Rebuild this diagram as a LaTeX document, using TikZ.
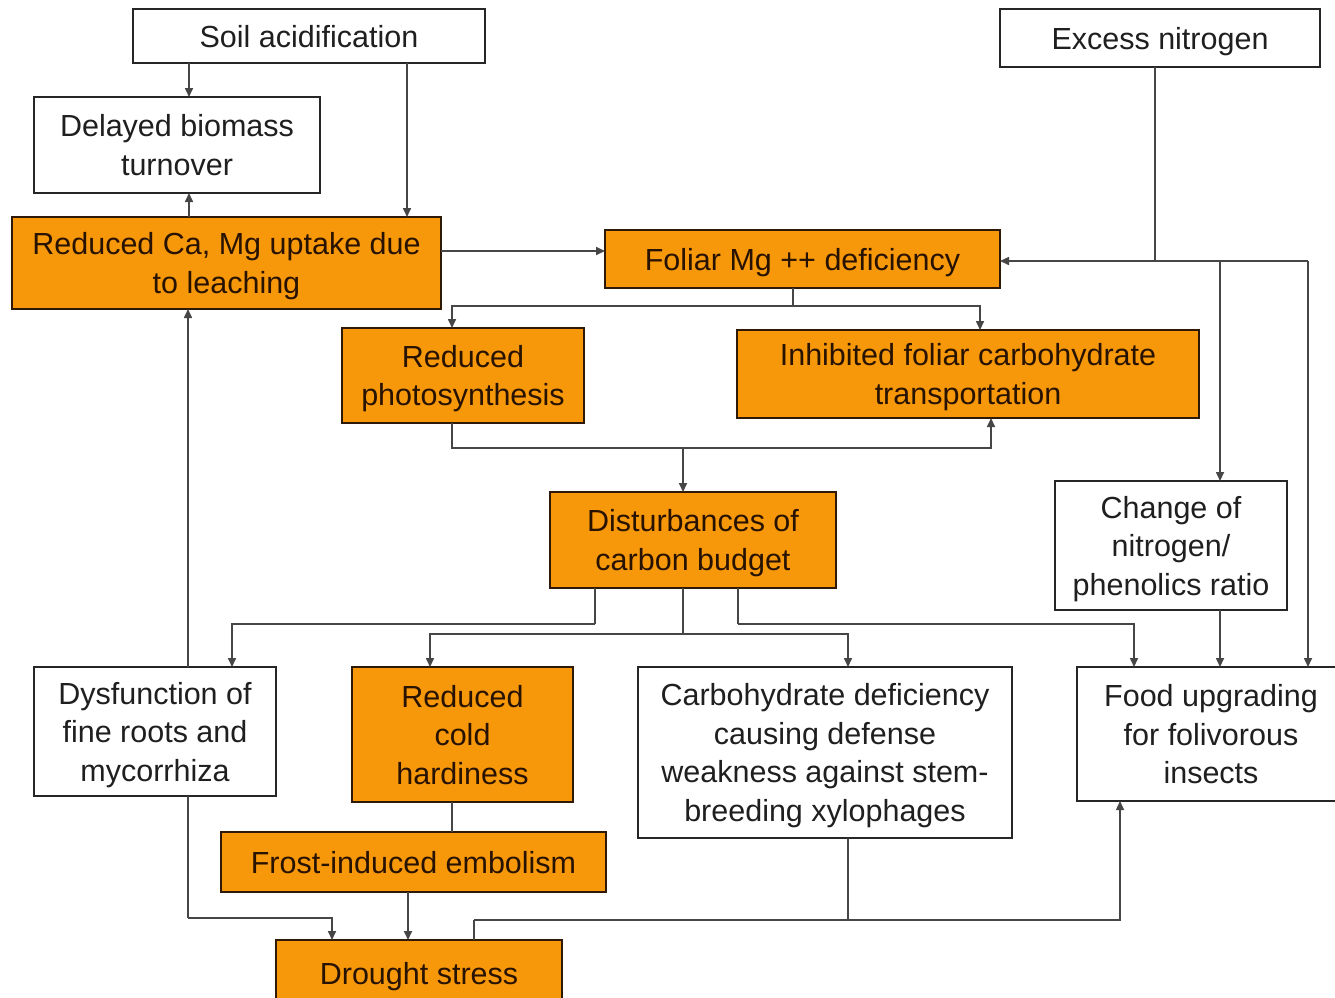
\documentclass[tikz,border=0pt]{standalone}
\usepackage{fontspec}
\setmainfont{Liberation Sans}
\usetikzlibrary{arrows.meta}
\definecolor{boxorange}{RGB}{247,152,10}
\definecolor{orangeedge}{RGB}{45,25,5}
\definecolor{orangetext}{RGB}{40,18,0}
\definecolor{lineclr}{RGB}{70,70,70}
\begin{document}
\begin{tikzpicture}[x=1pt,y=-1pt,
  box/.style={draw=black!85, line width=2.4pt, fill=white, text=black!88,
    inner sep=0pt, outer sep=0pt, align=center, text depth=0pt,
    font=\fontsize{30.5}{38.5}\selectfont},
  obox/.style={box, fill=boxorange, draw=orangeedge, text=orangetext},
  wire/.style={draw=lineclr, line width=1.6pt},
  arr/.style={wire, -{Triangle[length=9pt,width=8pt]}}]
\clip (0,0) rectangle (1335,997);
\fill[white] (0,0) rectangle (1335,997);

% boxes
\node[box, minimum width=352pt, minimum height=54pt] (soil) at (309,36) {Soil acidification};
\node[box, minimum width=320pt, minimum height=58pt] (nitro) at (1160,38) {Excess nitrogen};
\node[box, minimum width=286pt, minimum height=96pt] (delayed) at (177,145) {Delayed biomass\\turnover};
\node[obox, minimum width=429pt, minimum height=92pt] (ca) at (226.5,263) {Reduced Ca, Mg uptake due\\to leaching};
\node[obox, minimum width=395pt, minimum height=58pt] (mg) at (802.5,259) {Foliar Mg ++ deficiency};
\node[obox, minimum width=242pt, minimum height=95pt] (photo) at (463,375.5) {Reduced\\photosynthesis};
\node[obox, minimum width=462pt, minimum height=88pt] (inhib) at (968,374) {Inhibited foliar carbohydrate\\transportation};
\node[obox, minimum width=286pt, minimum height=96pt] (carbon) at (693,540) {Disturbances of\\carbon budget};
\node[box, minimum width=232pt, minimum height=129pt] (change) at (1171,545.5) {Change of\\nitrogen/\\phenolics ratio};
\node[box, minimum width=242pt, minimum height=129pt] (dys) at (155,731.5) {Dysfunction of\\fine roots and\\mycorrhiza};
\node[obox, minimum width=221pt, minimum height=135pt] (cold) at (462.5,734.5) {Reduced\\cold\\hardiness};
\node[box, minimum width=374pt, minimum height=171pt] (carbo) at (825,752.5) {Carbohydrate deficiency\\causing defense\\weakness against stem-\\breeding xylophages};
\node[box, minimum width=268pt, minimum height=134pt] (food) at (1211,734) {Food upgrading\\for folivorous\\insects};
\node[obox, minimum width=385pt, minimum height=60pt] (frost) at (413.5,862) {Frost-induced embolism};
\node[obox, minimum width=286pt, minimum height=66pt] (drought) at (419,973) {Drought stress};

% junction points of the branching connectors
\coordinate (jm) at (793,306);
\coordinate (jp) at (452,448);
\coordinate (jc) at (683,448);
\coordinate (jd1) at (595,624);
\coordinate (jd2) at (683,634);
\coordinate (jd3) at (738,624);
\coordinate (jr) at (188,918);
\coordinate (jq) at (474,920);
\coordinate (jx) at (848,920);
\coordinate (jn) at (1155,261);
\coordinate (jn1) at (1220,261);
\coordinate (jn2) at (1308,261);

% soil acidification
\draw[arr] ([xshift=-120pt]soil.south) -- ([xshift=12pt]delayed.north);
\draw[arr] ([xshift=98pt]soil.south) -- ([xshift=180.5pt]ca.north);
\draw[arr] ([xshift=-37.5pt]ca.north) -- ([xshift=12pt]delayed.south);
\draw[arr] ([yshift=12pt]ca.east) -- ([yshift=12pt]ca.east -| mg.west);

% foliar Mg deficiency
\draw[wire] (mg.south -| jm) -- (jm);
\draw[arr] (jm) -| ([xshift=-11pt]photo.north);
\draw[arr] (jm) -| ([xshift=12pt]inhib.north);

% photosynthesis / transport to carbon budget
\draw[arr] (photo.south -| jp) -- (jp) -| ([xshift=23pt]inhib.south);
\draw[arr] (jc) -- (carbon.north -| jc);

% carbon budget outputs
\draw[wire] (carbon.south -| jd1) -- (jd1);
\draw[arr] (jd1) -| ([xshift=77pt]dys.north);
\draw[wire] (carbon.south -| jd2) -- (jd2);
\draw[arr] (jd2) -| ([xshift=-32.5pt]cold.north);
\draw[arr] (jd2) -| ([xshift=23pt]carbo.north);
\draw[wire] (carbon.south -| jd3) -- (jd3);
\draw[arr] (jd3) -| ([xshift=-77pt]food.north);

% roots
\draw[arr] (dys.north -| jr) -- (ca.south -| jr);
\draw[wire] (dys.south -| jr) -- (jr);
\draw[arr] (jr) -| ([xshift=-87pt]drought.north);

% frost chain
\draw[wire] ([xshift=-10.5pt]cold.south) -- ([xshift=38.5pt]frost.north);
\draw[arr] ([xshift=-5.5pt]frost.south) -- ([xshift=-11pt]drought.north);

% drought and xylophages to food upgrading
\draw[wire] ([xshift=55pt]drought.north) -- (jq);
\draw[arr] (jq) -| ([xshift=-91pt]food.south);
\draw[wire] (carbo.south -| jx) -- (jx);

% excess nitrogen
\draw[wire] (nitro.south -| jn) -- (jn);
\draw[arr] (jn2) -- (jn2 -| mg.east);
\draw[arr] (jn1) -- (change.north -| jn1);
\draw[arr] (jn2) -- (food.north -| jn2);
\draw[arr] (change.south -| jn1) -- (food.north -| jn1);
\end{tikzpicture}
\end{document}
